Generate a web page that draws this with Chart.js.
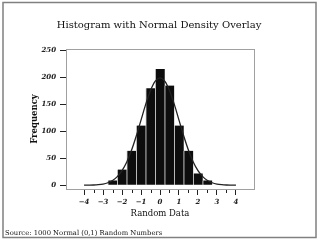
<!DOCTYPE html>
<html>
<head>
<meta charset="utf-8">
<script src="https://cdn.jsdelivr.net/npm/chart.js@4.4.1/dist/chart.umd.min.js"></script>
<style>
  html, body { margin: 0; padding: 0; background: #fff; }
  #wrap { width: 320px; height: 241px; }
</style>
</head>
<body>
<div id="wrap"><canvas id="hist" width="320" height="241"></canvas></div>
<script>
// #region data
const binCenters = [-2.5, -2, -1.5, -1, -0.5, 0, 0.5, 1, 1.5, 2, 2.5];
const binCounts = [9, 29, 64, 111, 180, 216, 185, 111, 64, 22, 9];

const curveX = [-4, -3.75, -3.5, -3.25, -3, -2.75, -2.5, -2.25, -2, -1.75, -1.5, -1.25, -1, -0.75, -0.5, -0.25,
  0, 0.25, 0.5, 0.75, 1, 1.25, 1.5, 1.75, 2, 2.25, 2.5, 2.75, 3, 3.25, 3.5, 3.75, 4];
const curveY = [0.1, 0.2, 0.4, 1.0, 2.2, 4.6, 8.8, 15.9, 27.0, 43.1, 64.8, 91.3, 121.0, 150.6, 176.0, 193.3,
  199.5, 193.3, 176.0, 150.6, 121.0, 91.3, 64.8, 43.1, 27.0, 15.9, 8.8, 4.6, 2.2, 1.0, 0.4, 0.2, 0.1];

const xTickValues = [-4, -3, -2, -1, 0, 1, 2, 3, 4];
const xMinorTicks = [-3.5, -2.5, -1.5, -0.5, 0.5, 1.5, 2.5, 3.5];
const yTickValues = [0, 50, 100, 150, 200, 250];

const titleText = 'Histogram with Normal Density Overlay';
const sourceText = 'Source: 1000 Normal (0,1) Random Numbers';
// #endregion

// #region decorations (frame, title, minor ticks)
const SERIF = "'DejaVu Serif', serif";

const decorPlugin = {
  id: 'decor',
  beforeDraw(chart) {
    const { ctx } = chart;
    ctx.save();
    ctx.fillStyle = '#fff';
    ctx.fillRect(0, 0, chart.width, chart.height);
    // outer page border
    ctx.strokeStyle = '#808080';
    ctx.lineWidth = 1.5;
    ctx.strokeRect(3, 2.5, 313, 235);
    ctx.restore();
  },
  afterDraw(chart) {
    const { ctx, chartArea: a } = chart;
    const xs = chart.scales.x;
    ctx.save();
    // plot frame
    ctx.strokeStyle = '#a0a0a0';
    ctx.lineWidth = 1;
    ctx.strokeRect(a.left + 0.5, a.top + 0.5, a.right - a.left, a.bottom - a.top);
    // minor ticks
    ctx.strokeStyle = '#222';
    xMinorTicks.forEach(v => {
      const px = Math.round(xs.getPixelForValue(v)) + 0.5;
      ctx.beginPath();
      ctx.moveTo(px, a.bottom + 1);
      ctx.lineTo(px, a.bottom + 4);
      ctx.stroke();
    });
    // title + source
    ctx.fillStyle = '#111';
    ctx.textBaseline = 'middle';
    ctx.textAlign = 'center';
    ctx.font = `10px ${SERIF}`;
    ctx.fillText(titleText, 159, 25);
    ctx.textAlign = 'left';
    ctx.font = `6.8px ${SERIF}`;
    ctx.fillText(sourceText, 5, 233);
    ctx.restore();
  }
};
// #endregion

// #region chart
const tickFont = { family: SERIF, size: 7, style: 'italic', weight: 'bold' };

new Chart(document.getElementById('hist'), {
  data: {
    datasets: [
      {
        type: 'line',
        data: curveX.map((x, i) => ({ x, y: curveY[i] })),
        borderColor: '#222',
        borderWidth: 1.3,
        pointRadius: 0,
        cubicInterpolationMode: 'monotone',
        order: 0
      },
      {
        type: 'bar',
        data: binCenters.map((x, i) => ({ x, y: binCounts[i] })),
        backgroundColor: '#0d0d0d',
        borderColor: '#c8c8c8',
        borderWidth: { left: 1, right: 0, top: 0, bottom: 0 },
        borderSkipped: false,
        barPercentage: 1,
        categoryPercentage: 1,
        order: 1
      }
    ]
  },
  options: {
    responsive: false,
    animation: false,
    events: [],
    layout: { padding: { top: 49, right: 66, left: 0, bottom: 0 } },
    plugins: { legend: { display: false }, tooltip: { enabled: false } },
    scales: {
      x: {
        type: 'linear',
        min: -4.4,
        max: 4.4,
        afterBuildTicks: s => { s.ticks = xTickValues.map(value => ({ value })); },
        afterFit: s => { s.height = 52; },
        border: { display: false },
        grid: { drawOnChartArea: false, tickLength: 6, tickColor: '#222', offset: false },
        ticks: {
          font: tickFont, color: '#222', padding: 3,
          callback: v => (v < 0 ? '\u2212' + Math.abs(v) : String(v))
        },
        title: {
          display: true, text: 'Random Data', color: '#111',
          font: { family: SERIF, size: 8.5 }, padding: { top: 0, bottom: 22 }
        }
      },
      y: {
        min: -7,
        max: 253,
        afterBuildTicks: s => { s.ticks = yTickValues.map(value => ({ value })); },
        afterFit: s => { s.width = 66; },
        border: { display: false },
        grid: { drawOnChartArea: false, tickLength: 6, tickColor: '#222' },
        ticks: { font: tickFont, color: '#222', padding: 4 },
        title: {
          display: true, text: 'Frequency', color: '#111',
          font: { family: SERIF, size: 8.5, weight: 'bold' }, padding: { top: 30, bottom: 0 }
        }
      }
    }
  },
  plugins: [decorPlugin]
});
// #endregion
</script>
</body>
</html>
